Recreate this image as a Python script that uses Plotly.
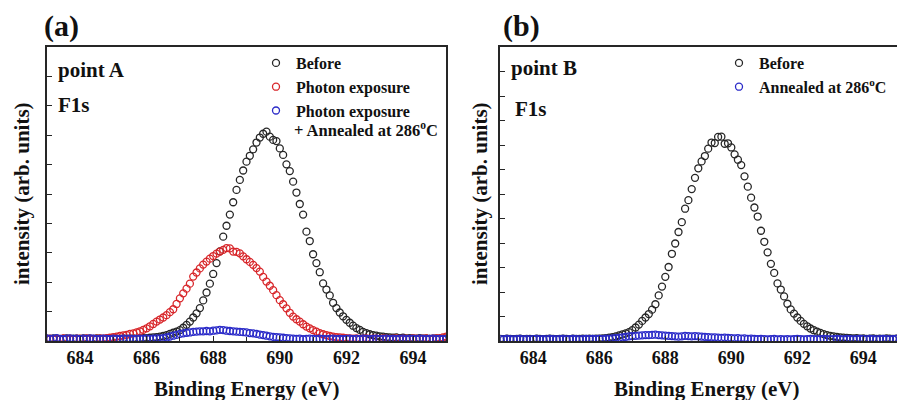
import plotly.graph_objects as go

# Binding energy grid (eV)
ENERGY_EV = [
    683.0, 683.1, 683.2, 683.3, 683.4, 683.5, 683.6, 683.7, 683.8, 683.9,
    684.0, 684.1, 684.2, 684.3, 684.4, 684.5, 684.6, 684.7, 684.8, 684.9,
    685.0, 685.1, 685.2, 685.3, 685.4, 685.5, 685.6, 685.7, 685.8, 685.9,
    686.0, 686.1, 686.2, 686.3, 686.4, 686.5, 686.6, 686.7, 686.8, 686.9,
    687.0, 687.1, 687.2, 687.3, 687.4, 687.5, 687.6, 687.7, 687.8, 687.9,
    688.0, 688.1, 688.2, 688.3, 688.4, 688.5, 688.6, 688.7, 688.8, 688.9,
    689.0, 689.1, 689.2, 689.3, 689.4, 689.5, 689.6, 689.7, 689.8, 689.9,
    690.0, 690.1, 690.2, 690.3, 690.4, 690.5, 690.6, 690.7, 690.8, 690.9,
    691.0, 691.1, 691.2, 691.3, 691.4, 691.5, 691.6, 691.7, 691.8, 691.9,
    692.0, 692.1, 692.2, 692.3, 692.4, 692.5, 692.6, 692.7, 692.8, 692.9,
    693.0, 693.1, 693.2, 693.3, 693.4, 693.5, 693.6, 693.7, 693.8, 693.9,
    694.0, 694.1, 694.2, 694.3, 694.4, 694.5, 694.6, 694.7, 694.8, 694.9,
    695.0,
]

# Panel (a): point A
A_BEFORE = [
    0.08, 0.07, 0.09, 0.08, 0.06, 0.08, 0.09, 0.07, 0.08, 0.08,
    0.07, 0.09, 0.08, 0.08, 0.07, 0.09, 0.08, 0.07, 0.08, 0.09,
    0.08, 0.08, 0.07, 0.09, 0.08, 0.08, 0.09, 0.08, 0.09, 0.10,
    0.10, 0.11, 0.12, 0.13, 0.15, 0.17, 0.20, 0.24, 0.28, 0.32,
    0.37, 0.45, 0.55, 0.66, 0.80, 0.94, 1.12, 1.38, 1.65, 1.95,
    2.28, 2.65, 3.05, 3.55, 3.92, 4.30, 4.72, 5.14, 5.48, 5.80,
    6.10, 6.30, 6.52, 6.75, 6.92, 7.05, 7.12, 6.95, 6.84, 6.80,
    6.55, 6.33, 6.01, 5.78, 5.42, 5.05, 4.66, 4.30, 3.72, 3.40,
    2.95, 2.65, 2.34, 1.96, 1.75, 1.55, 1.30, 1.12, 0.97, 0.84,
    0.72, 0.62, 0.52, 0.44, 0.38, 0.31, 0.27, 0.23, 0.20, 0.18,
    0.16, 0.15, 0.13, 0.12, 0.11, 0.12, 0.10, 0.11, 0.09, 0.10,
    0.09, 0.08, 0.10, 0.08, 0.09, 0.07, 0.08, 0.09, 0.07, 0.08,
    0.08,
]
A_PHOTON = [
    0.07, 0.08, 0.06, 0.08, 0.07, 0.09, 0.07, 0.08, 0.06, 0.08,
    0.08, 0.07, 0.09, 0.08, 0.07, 0.08, 0.09, 0.08, 0.10, 0.11,
    0.13, 0.15, 0.17, 0.19, 0.21, 0.24, 0.26, 0.29, 0.33, 0.38,
    0.43, 0.50, 0.58, 0.66, 0.73, 0.80, 0.88, 0.98, 1.08, 1.26,
    1.45, 1.62, 1.78, 1.95, 2.19, 2.33, 2.47, 2.60, 2.70, 2.80,
    2.89, 2.97, 3.04, 3.10, 3.16, 3.15, 3.04, 3.03, 2.98, 2.88,
    2.78, 2.69, 2.59, 2.48, 2.36, 2.18, 2.02, 1.88, 1.73, 1.56,
    1.39, 1.25, 1.11, 0.96, 0.83, 0.74, 0.66, 0.57, 0.49, 0.43,
    0.37, 0.32, 0.27, 0.23, 0.20, 0.17, 0.15, 0.13, 0.12, 0.11,
    0.10, 0.09, 0.08, 0.09, 0.07, 0.08, 0.09, 0.07, 0.08, 0.08,
    0.07, 0.09, 0.08, 0.07, 0.08, 0.09, 0.07, 0.08, 0.08, 0.07,
    0.09, 0.08, 0.07, 0.08, 0.09, 0.07, 0.08, 0.09, 0.10, 0.12,
    0.15,
]
A_ANNEALED = [
    0.09, 0.07, 0.08, 0.10, 0.07, 0.06, 0.08, 0.09, 0.07, 0.08,
    0.06, 0.08, 0.07, 0.09, 0.08, 0.06, 0.07, 0.08, 0.07, 0.06,
    0.08, 0.07, 0.06, 0.08, 0.07, 0.08, 0.06, 0.07, 0.08, 0.07,
    0.08, 0.07, 0.08, 0.09, 0.08, 0.10, 0.12, 0.15, 0.18, 0.21,
    0.24, 0.26, 0.28, 0.29, 0.31, 0.32, 0.33, 0.33, 0.34, 0.33,
    0.35, 0.36, 0.38, 0.37, 0.35, 0.34, 0.33, 0.32, 0.31, 0.30,
    0.29, 0.27, 0.26, 0.24, 0.22, 0.20, 0.18, 0.16, 0.14, 0.13,
    0.12, 0.11, 0.10, 0.09, 0.08, 0.07, 0.08, 0.06, 0.07, 0.08,
    0.07, 0.06, 0.08, 0.07, 0.06, 0.07, 0.08, 0.06, 0.07, 0.06,
    0.07, 0.08, 0.06, 0.07, 0.06, 0.08, 0.07, 0.06, 0.07, 0.08,
    0.06, 0.07, 0.08, 0.06, 0.07, 0.06, 0.07, 0.08, 0.06, 0.07,
    0.07, 0.06, 0.08, 0.07, 0.06, 0.07, 0.08, 0.06, 0.07, 0.06,
    0.07,
]

# Panel (b): point B
B_BEFORE = [
    0.09, 0.08, 0.10, 0.09, 0.08, 0.09, 0.10, 0.08, 0.09, 0.09,
    0.08, 0.10, 0.09, 0.08, 0.09, 0.10, 0.09, 0.08, 0.09, 0.10,
    0.09, 0.08, 0.10, 0.09, 0.09, 0.10, 0.09, 0.10, 0.09, 0.10,
    0.10, 0.11, 0.12, 0.14, 0.16, 0.19, 0.23, 0.27, 0.31, 0.36,
    0.44, 0.55, 0.67, 0.82, 0.96, 1.10, 1.28, 1.50, 1.86, 2.22,
    2.62, 3.02, 3.56, 3.98, 4.45, 4.85, 5.40, 5.75, 6.20, 6.66,
    7.05, 7.33, 7.55, 7.85, 8.10, 8.08, 8.33, 8.34, 8.05, 8.07,
    7.90, 7.62, 7.40, 7.18, 6.72, 6.30, 5.85, 5.45, 5.08, 4.50,
    4.05, 3.62, 3.15, 2.78, 2.35, 2.10, 1.82, 1.52, 1.29, 1.12,
    0.96, 0.82, 0.70, 0.60, 0.51, 0.44, 0.38, 0.33, 0.28, 0.24,
    0.21, 0.19, 0.17, 0.15, 0.14, 0.13, 0.12, 0.11, 0.12, 0.10,
    0.11, 0.09, 0.10, 0.11, 0.09, 0.10, 0.09, 0.11, 0.10, 0.09,
    0.10,
]
B_ANNEALED = [
    0.08, 0.07, 0.09, 0.08, 0.07, 0.08, 0.09, 0.07, 0.08, 0.07,
    0.08, 0.09, 0.07, 0.08, 0.07, 0.09, 0.08, 0.07, 0.08, 0.09,
    0.07, 0.08, 0.09, 0.08, 0.07, 0.08, 0.09, 0.08, 0.09, 0.08,
    0.09, 0.08, 0.10, 0.09, 0.11, 0.12, 0.13, 0.15, 0.17, 0.19,
    0.20, 0.21, 0.22, 0.23, 0.24, 0.24, 0.25, 0.26, 0.24, 0.23,
    0.22, 0.21, 0.20, 0.19, 0.18, 0.19, 0.21, 0.20, 0.19, 0.20,
    0.19, 0.18, 0.17, 0.16, 0.15, 0.15, 0.14, 0.13, 0.14, 0.13,
    0.12, 0.11, 0.12, 0.10, 0.11, 0.09, 0.10, 0.09, 0.08, 0.09,
    0.08, 0.07, 0.08, 0.09, 0.07, 0.08, 0.07, 0.08, 0.07, 0.08,
    0.09, 0.08, 0.07, 0.08, 0.09, 0.08, 0.07, 0.08, 0.09, 0.08,
    0.07, 0.08, 0.09, 0.08, 0.07, 0.09, 0.08, 0.07, 0.08, 0.09,
    0.08, 0.07, 0.09, 0.08, 0.07, 0.08, 0.09, 0.08, 0.07, 0.08,
    0.09,
]

X_TICKS = [684, 686, 688, 690, 692, 694]
X_TICK_LABELS = ["684", "686", "688", "690", "692", "694"]

FONT = "Liberation Serif, Times New Roman, serif"
BLACK = "#262626"
RED = "#d8262a"
BLUE = "#2a2ac8"
W, H = 897, 400


def marker(color):
    return dict(symbol="circle-open", size=7, color=color, line=dict(width=1.3, color=color))


fig = go.Figure()
fig.add_trace(go.Scatter(x=ENERGY_EV, y=A_BEFORE, mode="markers", name="Before",
                         marker=marker(BLACK), xaxis="x", yaxis="y", legend="legend"))
fig.add_trace(go.Scatter(x=ENERGY_EV, y=A_PHOTON, mode="markers", name="Photon exposure",
                         marker=marker(RED), xaxis="x", yaxis="y", legend="legend"))
fig.add_trace(go.Scatter(x=ENERGY_EV, y=A_ANNEALED, mode="markers", name="Photon exposure",
                         marker=marker(BLUE), xaxis="x", yaxis="y", legend="legend"))
fig.add_trace(go.Scatter(x=ENERGY_EV, y=B_BEFORE, mode="markers", name="Before",
                         marker=marker(BLACK), xaxis="x2", yaxis="y2", legend="legend2"))
fig.add_trace(go.Scatter(x=ENERGY_EV, y=B_ANNEALED, mode="markers",
                         name="Annealed at 286<sup>o</sup>C",
                         marker=marker(BLUE), xaxis="x2", yaxis="y2", legend="legend2"))

y_dom = [(H - 341) / H, (H - 47) / H]
xa_dom = [46.7 / W, 446.3 / W]
xb_dom = [500.3 / W, 1.0]


def xaxis(domain, rng, anchor):
    return dict(domain=domain, range=rng, anchor=anchor,
                tickmode="array", tickvals=X_TICKS, ticktext=X_TICK_LABELS,
                ticks="inside", ticklen=5, tickwidth=1.3, tickcolor=BLACK,
                minor=dict(dtick=1, ticks="inside", ticklen=4, tickwidth=1.2, tickcolor=BLACK),
                showline=True, linewidth=1.6, linecolor=BLACK, mirror=True,
                showgrid=False, zeroline=False,
                tickfont=dict(family=FONT, size=18, color="#111", weight="bold"))


def yaxis(rng, anchor, mirror):
    return dict(domain=y_dom, range=rng, anchor=anchor, dtick=1, tick0=0,
                ticks="inside", ticklen=5, tickwidth=1.2, tickcolor=BLACK,
                showticklabels=False, showline=True, linewidth=1.6, linecolor=BLACK,
                mirror=mirror, showgrid=False, zeroline=False)


legend_font = dict(family=FONT, size=16, color="#111", weight="bold")

fig.update_layout(
    width=W, height=H,
    margin=dict(l=0, r=0, t=0, b=0),
    paper_bgcolor="white", plot_bgcolor="white",
    font=dict(family=FONT, color="#111"),
    xaxis=xaxis(xa_dom, [683, 695], "y"),
    yaxis=yaxis([0, 10], "x", True),
    xaxis2=xaxis(xb_dom, [683, 683 + (W - 500.3) / 33.0], "y2"),
    yaxis2=yaxis([0, 12], "x2", False),
    showlegend=True,
    legend=dict(x=256 / W, y=(H - 46) / H, xanchor="left", yanchor="top",
                bgcolor="rgba(0,0,0,0)", font=legend_font, tracegroupgap=0),
    legend2=dict(x=719 / W, y=(H - 46) / H, xanchor="left", yanchor="top",
                 bgcolor="rgba(0,0,0,0)", font=legend_font, tracegroupgap=0),
)


def ann(text, x, y, size, xanchor="left", angle=0):
    fig.add_annotation(text=text, x=x / W, y=(H - y) / H, xref="paper", yref="paper",
                       xanchor=xanchor, yanchor="middle", showarrow=False, textangle=angle,
                       font=dict(family=FONT, size=size, color="#111", weight="bold"))


ann("(a)", 61.5, 26, 30, "center")
ann("(b)", 521, 26, 30, "center")
ann("point A", 56, 70, 21)
ann("F1s", 56, 105, 21)
ann("point B", 509, 68, 21)
ann("F1s", 513, 109, 21)
ann("+ Annealed at 286<sup>o</sup>C", 292, 130, 16.5)
ann("intensity (arb. units)", 22, 194, 21, "center", -90)
ann("intensity (arb. units)", 480, 194, 21, "center", -90)
ann("Binding Energy (eV)", 246.5, 389, 21, "center")
ann("Binding Energy (eV)", 707, 389, 21, "center")

fig.write_html("out.html", config={"displayModeBar": False},
               post_script="document.body.style.margin='0px';")
